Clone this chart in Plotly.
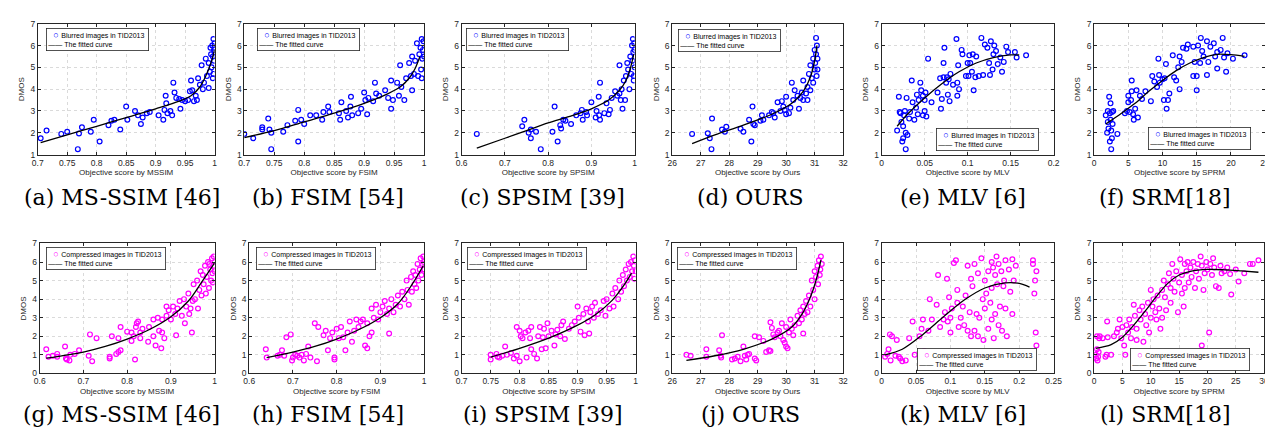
import plotly.graph_objects as go

# ---------------- data ----------------
# (a) MS-SSIM, blurred
a_x = [0.705,0.715,0.74,0.75,0.768,0.77,0.775,0.79,0.795,0.805,0.82,0.825,0.83,0.84,0.85,0.852,0.865,0.87,0.875,0.878,0.885,0.89,0.905,0.913,0.915,0.917,0.918,0.92,0.925,0.928,0.93,0.932,0.935,0.94,0.942,0.945,0.95,0.955,0.958,0.96,0.962,0.965,0.968,0.97,0.972,0.975,0.978,0.98,0.982,0.985,0.987,0.99,0.99,0.992,0.994,0.995,0.996,0.997,0.998,0.998,0.999,0.999,1.0,1.0,0.997,0.993]
a_y = [1.75,2.1,1.95,2.05,1.25,1.97,2.25,2.05,2.6,1.6,2.35,2.55,2.6,2.15,3.2,2.6,3.0,2.8,2.4,2.7,2.9,2.95,2.8,2.6,3.05,3.7,3.35,2.9,3.0,2.8,4.3,3.85,3.6,3.55,3.1,3.5,3.45,3.5,3.9,4.4,3.95,3.45,3.7,3.5,4.5,4.2,5.1,4.0,4.3,5.4,4.6,4.05,5.2,4.8,5.6,5.0,6.0,5.5,6.3,4.7,5.8,5.3,6.1,5.7,4.5,5.9]
a_fit_x = [0.705,0.75,0.8,0.85,0.9,0.94,0.96,0.975,0.985,0.995,1.0]
a_fit_y = [1.55,1.9,2.3,2.7,3.1,3.45,3.7,4.1,4.6,5.3,5.8]

# (b) FSIM, blurred
b_x = [0.70,0.715,0.73,0.73,0.74,0.742,0.745,0.745,0.765,0.772,0.785,0.79,0.79,0.795,0.8,0.81,0.82,0.83,0.832,0.84,0.842,0.858,0.86,0.862,0.87,0.873,0.877,0.878,0.88,0.89,0.895,0.9,0.902,0.905,0.907,0.915,0.918,0.92,0.925,0.935,0.94,0.945,0.945,0.948,0.955,0.958,0.96,0.962,0.967,0.97,0.975,0.978,0.98,0.98,0.983,0.985,0.988,0.99,0.992,0.994,0.995,0.996,0.997,0.998,0.999,1.0,0.996]
b_y = [1.95,1.75,2.15,2.25,2.65,2.15,2.0,1.25,2.05,2.35,2.55,3.05,1.6,2.6,2.4,2.8,2.8,2.6,2.95,3.2,2.95,2.9,2.6,3.4,3.0,2.7,3.2,3.65,2.8,2.9,3.1,3.85,3.5,2.85,3.6,3.45,4.3,3.8,3.7,3.95,3.6,3.1,4.4,3.5,4.3,3.7,5.1,4.1,3.5,4.5,5.2,4.6,3.95,5.5,4.7,5.3,6.1,4.6,5.6,5.9,4.9,6.3,5.4,5.8,6.2,5.5,4.5]
b_fit_x = [0.70,0.75,0.8,0.85,0.9,0.94,0.96,0.975,0.985,0.993]
b_fit_y = [1.78,2.1,2.5,2.9,3.35,3.8,4.1,4.5,4.95,5.5]

# (c) SPSIM, blurred
c_x = [0.635,0.74,0.745,0.755,0.76,0.76,0.772,0.783,0.81,0.815,0.822,0.828,0.83,0.835,0.84,0.853,0.865,0.875,0.878,0.88,0.888,0.89,0.9,0.91,0.912,0.917,0.918,0.92,0.92,0.93,0.935,0.94,0.943,0.947,0.955,0.96,0.965,0.965,0.968,0.97,0.972,0.975,0.978,0.98,0.983,0.985,0.988,0.99,0.992,0.994,0.995,0.996,0.997,0.998,0.999,1.0,1.0,0.998]
c_y = [1.95,2.3,2.6,2.0,2.15,1.75,2.05,1.25,2.05,3.2,1.6,2.35,2.2,2.6,2.55,2.4,2.8,2.9,3.05,2.6,2.95,2.8,3.4,2.7,3.0,3.65,2.8,2.6,4.3,2.9,3.35,2.85,3.05,3.6,3.9,3.7,3.8,5.1,3.5,4.0,3.1,4.4,3.5,4.6,5.2,4.9,4.0,5.5,4.7,6.0,5.3,6.3,5.7,4.6,6.1,5.0,5.8,4.4]
c_fit_x = [0.635,0.7,0.75,0.8,0.85,0.9,0.94,0.965,0.98,0.99,0.998]
c_fit_y = [1.3,1.75,2.1,2.45,2.75,3.1,3.5,3.95,4.4,4.95,5.6]

# (d) OURS, blurred
d_x = [26.7,27.25,27.32,27.38,27.4,27.75,27.85,27.9,28.4,28.5,28.7,28.78,28.82,28.85,28.9,29.1,29.15,29.2,29.4,29.5,29.55,29.6,29.7,29.8,29.85,29.9,29.95,30.0,30.0,30.1,30.15,30.2,30.25,30.3,30.4,30.45,30.5,30.55,30.6,30.6,30.7,30.75,30.75,30.8,30.85,30.85,30.9,30.95,30.95,31.0,31.0,31.02,31.05,31.05,31.07,31.08,31.1,31.1]
d_y = [1.95,1.98,1.75,1.25,2.65,2.15,2.05,2.28,2.18,2.05,2.6,1.6,3.2,2.4,2.35,2.55,2.8,2.6,2.8,2.95,2.9,2.7,3.4,3.0,3.45,3.2,3.05,3.65,2.85,2.9,3.15,4.3,3.5,3.95,3.7,3.1,3.6,3.85,4.4,3.5,3.8,4.1,3.5,4.7,5.1,3.95,4.5,5.4,4.3,4.9,5.8,5.2,6.35,5.6,4.6,6.0,5.4,4.9]
d_fit_x = [26.7,27.5,28.5,29.5,30.2,30.6,30.85,31.0,31.08]
d_fit_y = [1.5,1.9,2.35,2.85,3.35,3.9,4.55,5.3,6.0]

# (e) MLV, blurred
e_x = [0.018,0.02,0.021,0.022,0.023,0.024,0.025,0.025,0.026,0.027,0.028,0.028,0.029,0.03,0.032,0.033,0.035,0.036,0.038,0.04,0.041,0.042,0.043,0.045,0.046,0.048,0.048,0.05,0.05,0.051,0.052,0.054,0.058,0.065,0.068,0.069,0.07,0.072,0.072,0.073,0.075,0.076,0.077,0.078,0.079,0.08,0.083,0.087,0.088,0.088,0.089,0.09,0.093,0.094,0.098,0.1,0.101,0.102,0.103,0.105,0.106,0.107,0.109,0.11,0.113,0.116,0.118,0.12,0.123,0.125,0.126,0.127,0.129,0.13,0.131,0.133,0.135,0.138,0.14,0.142,0.145,0.147,0.155,0.157,0.168]
e_y = [2.1,3.65,2.95,2.9,2.5,1.6,1.75,2.3,2.8,3.0,1.25,2.0,3.6,1.9,2.65,2.95,4.4,3.4,2.6,3.15,3.75,2.85,3.5,4.3,3.95,2.8,3.7,3.0,3.5,3.85,2.75,5.4,3.4,3.85,4.5,3.1,3.55,4.55,5.2,5.9,4.3,4.55,3.75,4.45,3.45,4.7,4.2,6.3,4.3,3.7,5.1,4.0,5.8,5.6,4.6,5.2,4.6,5.55,5.2,4.8,5.6,3.95,4.55,5.5,4.6,6.35,4.65,6.05,5.9,5.2,4.65,6.2,4.9,5.6,6.0,5.75,5.15,5.45,4.8,5.25,5.95,5.7,5.7,5.45,5.55]
e_fit_x = [0.018,0.03,0.05,0.07,0.09,0.11,0.13,0.15,0.16]
e_fit_y = [2.3,2.85,3.6,4.25,4.8,5.2,5.45,5.57,5.57]

# (f) SRM, blurred
f_x = [1.7,1.9,2.0,2.0,2.1,2.2,2.3,2.3,2.4,2.4,2.5,2.5,2.6,2.6,2.7,2.8,3.4,4.5,4.8,5.0,5.0,5.2,5.4,5.5,5.5,5.7,5.8,6.0,6.2,6.4,6.7,7.0,7.5,8.3,8.5,8.8,9.2,9.4,9.5,9.6,10.0,10.2,10.3,10.5,10.6,10.8,11.0,11.5,11.7,12.0,12.3,12.5,12.5,12.8,13.0,13.5,13.7,14.5,14.5,14.7,15.0,15.0,15.2,15.5,15.6,15.8,16.0,16.5,16.5,16.7,17.0,17.5,17.7,18.0,18.0,18.5,18.8,19.0,19.3,19.5,20.3,22.0]
f_y = [2.8,2.0,2.5,3.0,2.2,3.65,2.9,1.6,2.6,3.35,1.25,2.1,1.75,2.95,2.4,3.0,1.95,2.9,3.0,3.4,3.7,2.95,3.5,4.4,3.9,2.85,2.6,3.1,3.95,2.7,3.7,3.55,3.9,3.45,4.6,4.35,4.1,5.4,4.65,4.3,4.45,3.5,4.5,5.15,3.1,3.5,3.8,5.55,4.55,4.4,5.0,5.5,4.0,5.25,5.9,5.85,6.05,4.6,5.95,5.25,3.95,4.6,6.0,5.2,6.35,5.75,5.5,4.65,6.2,5.25,5.95,6.1,5.5,4.95,5.7,5.8,6.35,5.45,4.8,5.65,5.4,5.55]
f_fit_x = [1.7,4,6,8,10,12,14,16,18,20,22]
f_fit_y = [2.4,2.9,3.35,3.9,4.4,4.85,5.2,5.45,5.6,5.58,5.5]

# (g) MS-SSIM, compressed
g_x = [0.615,0.62,0.63,0.64,0.64,0.658,0.66,0.662,0.668,0.67,0.68,0.69,0.712,0.715,0.72,0.73,0.76,0.76,0.765,0.775,0.78,0.78,0.785,0.785,0.8,0.81,0.81,0.815,0.818,0.82,0.822,0.825,0.83,0.83,0.835,0.848,0.85,0.86,0.86,0.865,0.87,0.873,0.878,0.88,0.88,0.885,0.89,0.89,0.895,0.9,0.905,0.91,0.912,0.915,0.92,0.925,0.93,0.932,0.935,0.94,0.942,0.945,0.948,0.95,0.952,0.955,0.96,0.962,0.965,0.968,0.97,0.973,0.975,0.978,0.98,0.982,0.985,0.987,0.99,0.992,0.994,0.995,0.997,0.998,1.0,1.0,0.996,0.988]
g_y = [1.3,0.9,0.95,1.05,0.9,1.45,0.8,0.75,0.7,1.0,1.05,1.25,0.95,2.1,0.65,1.9,0.9,0.8,2.0,1.05,1.15,1.9,2.5,1.25,2.25,1.75,2.2,2.0,0.75,2.5,2.7,2.8,2.2,1.9,2.4,1.7,2.5,2.9,2.0,1.5,3.0,2.3,1.35,2.9,2.2,1.9,3.6,3.1,3.4,2.9,3.6,3.2,2.05,3.5,3.9,3.1,4.0,2.7,3.6,4.3,3.2,3.5,2.2,3.9,4.8,4.0,5.0,3.5,4.5,5.5,4.2,5.3,4.8,5.8,4.3,5.2,6.0,4.6,5.6,5.0,6.2,5.4,5.8,6.3,5.5,6.0,4.9,5.9]
g_fit_x = [0.615,0.7,0.75,0.8,0.85,0.9,0.94,0.97,1.0]
g_fit_y = [0.82,1.15,1.45,1.85,2.35,3.05,3.9,4.9,5.95]

# (h) FSIM, compressed
h_x = [0.638,0.64,0.665,0.67,0.675,0.68,0.685,0.695,0.698,0.7,0.705,0.71,0.715,0.72,0.725,0.73,0.735,0.74,0.75,0.755,0.758,0.77,0.775,0.78,0.785,0.79,0.795,0.795,0.8,0.805,0.81,0.815,0.82,0.825,0.83,0.835,0.84,0.845,0.85,0.855,0.86,0.865,0.87,0.87,0.875,0.88,0.88,0.885,0.89,0.895,0.9,0.905,0.91,0.915,0.92,0.92,0.925,0.93,0.935,0.94,0.945,0.95,0.955,0.96,0.962,0.965,0.97,0.972,0.975,0.978,0.98,0.982,0.985,0.987,0.99,0.992,0.994,0.996,0.998,1.0,0.999]
h_y = [1.3,0.85,0.95,1.0,1.25,0.95,1.95,2.1,0.7,0.85,1.0,0.95,0.85,1.0,0.7,1.05,1.45,0.85,2.7,0.65,2.5,2.05,2.3,1.25,1.9,2.2,0.85,0.75,2.4,1.9,2.5,1.95,1.25,2.2,2.8,1.7,2.3,2.9,2.5,2.8,2.9,1.5,2.7,1.35,2.0,3.5,2.2,3.0,3.7,2.9,3.3,3.6,3.9,3.2,2.15,3.5,4.0,3.3,3.7,4.2,3.6,4.4,4.0,5.0,4.5,3.7,5.2,4.4,5.5,4.8,5.3,4.6,5.9,5.0,5.6,6.2,5.3,5.9,6.3,5.6,6.0]
h_fit_x = [0.64,0.7,0.75,0.8,0.85,0.9,0.94,0.97,0.998]
h_fit_y = [0.85,1.15,1.45,1.85,2.35,3.0,3.75,4.7,5.8]

# (i) SPSIM, compressed
i_x = [0.75,0.75,0.76,0.762,0.765,0.77,0.775,0.778,0.785,0.79,0.795,0.795,0.8,0.8,0.802,0.805,0.81,0.812,0.815,0.818,0.82,0.82,0.825,0.83,0.832,0.835,0.838,0.84,0.842,0.845,0.848,0.85,0.855,0.86,0.862,0.865,0.87,0.872,0.875,0.878,0.885,0.89,0.895,0.9,0.902,0.905,0.91,0.912,0.915,0.918,0.92,0.922,0.925,0.928,0.93,0.935,0.94,0.945,0.948,0.95,0.955,0.96,0.962,0.965,0.97,0.972,0.975,0.978,0.98,0.983,0.985,0.988,0.99,0.992,0.994,0.996,0.997,0.999,1.0,0.998]
i_y = [0.75,1.0,1.05,0.9,0.85,0.95,1.45,1.0,1.1,0.8,2.5,0.95,2.3,0.65,2.0,1.9,2.2,0.85,2.3,1.9,1.3,2.5,1.05,0.8,2.0,2.5,1.3,1.95,2.4,1.35,2.7,2.0,2.3,1.5,2.1,2.35,2.0,2.6,2.8,1.85,2.4,2.6,2.8,3.6,3.0,2.25,3.2,2.05,3.5,2.8,2.15,3.3,3.6,3.0,3.8,3.2,3.4,3.9,3.1,4.0,3.5,4.3,3.6,4.6,4.0,5.0,4.4,5.3,4.7,5.6,5.0,5.9,5.2,6.0,5.5,6.3,5.8,6.1,5.5,5.1]
i_fit_x = [0.75,0.8,0.85,0.9,0.93,0.96,0.98,0.993]
i_fit_y = [0.88,1.35,1.9,2.6,3.15,3.95,4.75,5.4]

# (j) OURS, compressed
j_x = [26.5,26.65,27.2,27.2,27.65,27.7,27.72,27.75,28.1,28.2,28.3,28.4,28.5,28.55,28.6,28.65,28.7,28.9,28.9,28.95,29.05,29.2,29.3,29.4,29.45,29.45,29.5,29.55,29.6,29.7,29.75,29.8,29.85,29.9,29.95,30.0,30.0,30.05,30.1,30.15,30.2,30.25,30.3,30.4,30.45,30.5,30.55,30.6,30.6,30.65,30.7,30.75,30.8,30.85,30.9,30.95,31.0,31.0,31.05,31.1,31.12,31.15,31.2,31.22,31.25,31.18]
j_y = [1.0,0.95,1.3,0.9,1.25,0.95,0.85,2.05,0.75,0.8,0.9,0.65,1.45,0.95,0.75,1.0,1.05,2.0,0.8,0.7,1.95,1.75,1.15,1.25,2.75,1.2,2.45,2.1,1.95,2.2,2.3,2.0,2.7,1.8,1.65,1.45,2.5,1.35,2.2,2.9,2.4,2.05,2.6,3.1,2.7,3.4,2.9,2.15,3.6,3.2,3.9,3.3,4.2,3.6,5.0,4.5,5.5,4.0,5.2,5.8,4.8,6.1,5.6,6.3,5.9,5.3]
j_fit_x = [26.5,27.5,28.5,29.5,30.2,30.6,30.9,31.1,31.22]
j_fit_y = [0.7,0.95,1.3,1.85,2.5,3.3,4.3,5.3,6.1]

# (k) MLV, compressed
k_x = [0.005,0.008,0.01,0.012,0.013,0.015,0.02,0.022,0.025,0.027,0.03,0.035,0.04,0.045,0.048,0.055,0.058,0.06,0.062,0.068,0.07,0.073,0.08,0.082,0.085,0.09,0.092,0.095,0.096,0.098,0.1,0.1,0.102,0.105,0.108,0.11,0.11,0.112,0.115,0.118,0.12,0.122,0.125,0.125,0.128,0.13,0.13,0.132,0.135,0.135,0.138,0.14,0.14,0.142,0.145,0.147,0.148,0.15,0.15,0.152,0.155,0.155,0.158,0.16,0.16,0.16,0.162,0.163,0.165,0.165,0.167,0.168,0.17,0.17,0.172,0.174,0.175,0.177,0.178,0.18,0.18,0.182,0.185,0.187,0.19,0.19,0.192,0.195,0.22,0.222,0.223,0.224,0.225,0.225,0.22]
k_y = [0.9,1.05,1.3,2.1,0.7,2.0,0.95,1.8,0.9,0.8,0.65,0.7,1.9,2.8,1.0,2.0,2.4,2.9,1.2,2.3,4.0,2.9,3.7,5.3,2.5,2.9,3.3,5.1,2.8,4.1,2.2,3.0,3.5,5.95,6.1,3.8,4.5,2.5,3.0,3.6,2.6,4.2,2.3,5.8,3.3,5.1,2.0,4.7,2.3,5.9,3.2,5.4,2.0,3.0,6.2,4.0,1.8,3.5,5.0,4.3,2.4,5.5,3.8,6.0,4.6,2.9,5.7,1.9,5.3,3.2,6.3,4.8,5.9,2.6,3.6,5.5,2.3,4.7,5.0,6.1,3.5,2.0,5.6,4.4,6.15,3.2,5.0,5.8,6.1,4.3,5.0,2.2,5.5,1.5,5.9]
k_fit_x = [0.005,0.03,0.06,0.09,0.12,0.15,0.18,0.2,0.215]
k_fit_y = [1.0,1.3,2.1,3.05,3.95,4.6,4.88,4.85,4.65]

# (l) SRM, compressed
l_x = [0.3,0.4,0.5,0.5,0.6,0.7,0.8,0.9,1.0,1.5,2.0,2.2,2.3,2.4,3.0,3.5,4.0,4.2,4.5,4.8,5.0,5.3,5.5,5.7,6.0,6.2,6.5,6.7,7.0,7.2,7.5,7.5,8.0,8.2,8.5,8.7,9.0,9.2,9.5,9.7,10.0,10.0,10.3,10.5,10.8,11.0,11.2,11.5,11.7,12.0,12.0,12.3,12.5,12.7,13.0,13.2,13.5,13.5,13.8,14.0,14.2,14.5,14.8,15.0,15.2,15.5,15.5,15.8,16.0,16.0,16.3,16.5,16.7,17.0,17.2,17.5,17.8,18.0,18.3,18.5,18.8,19.0,19.0,19.3,19.5,19.8,20.0,20.3,20.5,20.8,21.0,21.2,21.5,22.0,22.3,22.5,23.0,23.5,24.0,24.2,25.0,25.5,26.5,27.5,28.0,29.0]
l_y = [1.0,0.8,2.0,1.3,0.7,0.9,1.15,1.9,2.0,1.9,0.9,1.0,2.8,1.95,1.0,2.0,2.2,2.4,2.9,1.9,2.5,1.5,1.0,2.6,2.2,2.9,1.9,2.5,3.7,3.1,2.4,1.8,3.4,2.9,3.6,1.7,3.2,2.6,3.8,2.2,4.5,3.0,3.6,4.0,3.3,2.9,4.2,3.5,2.4,4.5,3.0,5.0,4.1,3.4,4.8,5.4,3.8,4.6,5.9,5.1,4.4,5.5,3.3,4.9,6.15,5.3,4.3,3.6,5.9,4.6,5.5,6.0,4.9,5.7,5.2,6.0,4.6,5.5,5.9,5.1,6.3,5.8,1.5,4.5,5.4,6.0,5.6,2.2,5.9,5.3,6.2,5.7,4.7,4.6,5.8,5.4,5.5,5.7,5.35,4.25,5.6,4.95,5.4,5.9,5.9,6.1]
l_fit_x = [0.3,3,5,7,9,11,13,15,17,20,23,26,29]
l_fit_y = [1.35,1.55,1.95,2.6,3.35,4.15,4.85,5.3,5.5,5.6,5.58,5.52,5.45]

# tick values per panel
a_ticks = [0.7,0.75,0.8,0.85,0.9,0.95,1]
b_ticks = [0.7,0.75,0.8,0.85,0.9,0.95,1]
c_ticks = [0.6,0.7,0.8,0.9,1]
d_ticks = [26,27,28,29,30,31,32]
e_ticks = [0,0.05,0.1,0.15,0.2]
f_ticks = [0,5,10,15,20,25]
g_ticks = [0.6,0.7,0.8,0.9,1]
h_ticks = [0.6,0.7,0.8,0.9,1]
i_ticks = [0.7,0.75,0.8,0.85,0.9,0.95,1]
j_ticks = [26,27,28,29,30,31,32]
k_ticks = [0,0.05,0.1,0.15,0.2,0.25]
l_ticks = [0,5,10,15,20,25,30]
y_ticks_blur = [1,2,3,4,5,6,7]
y_ticks_comp = [0,1,2,3,4,5,6,7]

x_titles = ["Objective score by MSSIM", "Objective score by FSIM", "Objective score by SPSIM",
            "Objective score by Ours", "Objective score by MLV", "Objective score by SPRM"] * 2
captions = ["(a) MS-SSIM [46]", "(b) FSIM [54]", "(c) SPSIM [39]", "(d) OURS", "(e) MLV [6]", "(f) SRM[18]",
            "(g) MS-SSIM [46]", "(h) FSIM [54]", "(i) SPSIM [39]", "(j) OURS", "(k) MLV [6]", "(l) SRM[18]"]
series_names = ["Blurred images in TID2013", "Compressed images in TID2013"]
fit_name = "The fitted curve"

panels = [
    (a_x, a_y, a_fit_x, a_fit_y, a_ticks, 0), (b_x, b_y, b_fit_x, b_fit_y, b_ticks, 0),
    (c_x, c_y, c_fit_x, c_fit_y, c_ticks, 0), (d_x, d_y, d_fit_x, d_fit_y, d_ticks, 0),
    (e_x, e_y, e_fit_x, e_fit_y, e_ticks, 0), (f_x, f_y, f_fit_x, f_fit_y, f_ticks, 0),
    (g_x, g_y, g_fit_x, g_fit_y, g_ticks, 1), (h_x, h_y, h_fit_x, h_fit_y, h_ticks, 1),
    (i_x, i_y, i_fit_x, i_fit_y, i_ticks, 1), (j_x, j_y, j_fit_x, j_fit_y, j_ticks, 1),
    (k_x, k_y, k_fit_x, k_fit_y, k_ticks, 1), (l_x, l_y, l_fit_x, l_fit_y, l_ticks, 1),
]

# ---------------- layout geometry (pixels) ----------------
W, H = 1273, 428
x_px = [(24, 203), (233, 415), (453, 628), (666, 839), (878, 1052), (1093, 1266),
        (26, 203), (238, 415), (453, 629), (666, 839), (878, 1052), (1093, 1265)]
y_px = [(11, 145), (236, 369)]
legend_px = [(32, 15), (246, 15), (457, 15), (672, 16), (933, 118), (1148, 117),
             (32, 240), (245, 240), (458, 240), (671, 240), (914, 343), (1129, 343)]
caption_px = [(109, 189), (318, 189), (535, 189), (745, 189), (960, 189), (1165, 189),
              (109, 411), (318, 411), (535, 411), (745, 411), (960, 411), (1165, 411)]
colors = ["#0000ff", "#ff00ff"]
tick_font = dict(family="Liberation Sans, Arial, sans-serif", size=8.5, color="#262626")

fig = go.Figure()
annotations = []

def fmt(v):
    return f"{v:g}"

for idx, (xs, ys, fx, fy, xt, kind) in enumerate(panels):
    n = "" if idx == 0 else str(idx + 1)
    xa, ya = "x" + n, "y" + n
    fig.add_trace(go.Scatter(x=xs, y=ys, mode="markers", xaxis=xa, yaxis=ya, showlegend=False,
                             name=series_names[kind],
                             marker=dict(symbol="circle-open", size=4.8, color=colors[kind],
                                         line=dict(width=1.2, color=colors[kind]))))
    fig.add_trace(go.Scatter(x=fx, y=fy, mode="lines", xaxis=xa, yaxis=ya, showlegend=False,
                             name=fit_name, line=dict(color="black", width=1.3, shape="spline", smoothing=0.9)))
    yt = y_ticks_blur if kind == 0 else y_ticks_comp
    x0, x1 = x_px[idx]
    t0, t1 = y_px[kind]
    axis_common = dict(showline=True, linecolor="#262626", linewidth=0.8, mirror="ticks",
                       ticks="inside", ticklen=3, tickcolor="#262626", tickwidth=0.8,
                       showgrid=True, gridcolor="#dadada", griddash="dot", gridwidth=0.8,
                       zeroline=False, tickfont=tick_font)
    fig.layout["xaxis" + n] = dict(axis_common, domain=[x0 / W, x1 / W], anchor=ya,
                                   range=[xt[0], xt[-1]], tickvals=xt, ticktext=[fmt(v) for v in xt],
                                   title=dict(text=x_titles[idx], standoff=2,
                                              font=dict(family="Liberation Sans, Arial, sans-serif", size=8, color="#262626")))
    fig.layout["yaxis" + n] = dict(axis_common, domain=[1 - t1 / H, 1 - t0 / H], anchor=xa,
                                   range=[yt[0], yt[-1]], tickvals=yt, ticktext=[fmt(v) for v in yt],
                                   title=dict(text="DMOS", standoff=4,
                                              font=dict(family="Liberation Sans, Arial, sans-serif", size=8, color="#262626")))
    lx, ly = legend_px[idx]
    annotations.append(dict(
        xref="paper", yref="paper", x=lx / W, y=1 - ly / H, xanchor="left", yanchor="top",
        align="left", showarrow=False, bgcolor="white", bordercolor="#262626", borderwidth=0.8, borderpad=1.5,
        font=dict(family="Liberation Sans, Arial, sans-serif", size=7, color="black"),
        text=(f"<span style='color:{colors[kind]};font-size:9px'>&nbsp;&nbsp;○&nbsp;</span>{series_names[kind]}&nbsp;"
              f"<br>——&nbsp;{fit_name}")))
    cx, cy = caption_px[idx]
    annotations.append(dict(xref="paper", yref="paper", x=cx / W, y=1 - cy / H, xanchor="center",
                            yanchor="middle", showarrow=False, text=captions[idx],
                            font=dict(family="DejaVu Serif, Liberation Serif, serif", size=22, color="black")))

fig.update_layout(width=W, height=H, margin=dict(l=0, r=0, t=0, b=0),
                  paper_bgcolor="white", plot_bgcolor="white", annotations=annotations,
                  showlegend=False)
fig.write_html("out.html")
